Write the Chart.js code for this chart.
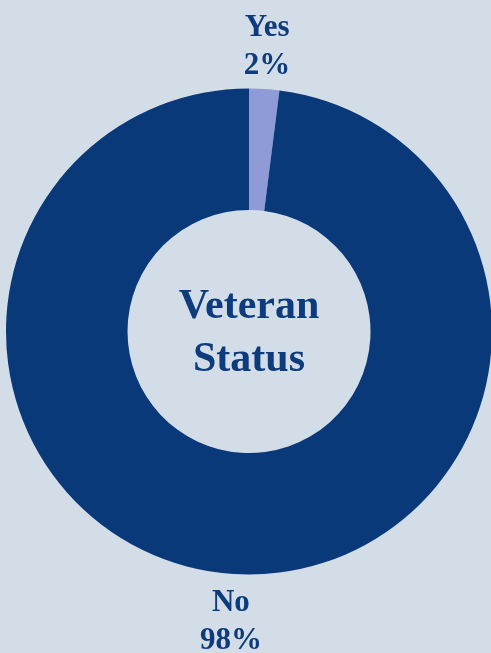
<!DOCTYPE html>
<html>
<head>
<meta charset="utf-8">
<title>Veteran Status</title>
<script src="https://cdn.jsdelivr.net/npm/chart.js@4"></script>
<style>
  html, body { margin: 0; padding: 0; width: 491px; height: 653px; overflow: hidden; background: #d3dde7; }
  #wrap { position: absolute; left: 0; top: 0; width: 497px; height: 653px; }
</style>
</head>
<body>
<div id="wrap"><canvas id="chart" width="497" height="653"></canvas></div>
<script>
// Survey answers and their share of respondents (percent)
const categories = ['Yes', 'No'];
const shares = [2, 98];
const centerTitle = ['Veteran', 'Status'];

const NAVY = '#0a397a';
const TEXT = '#0d3b7c';
const SERIF = '"Liberation Serif", "Times New Roman", serif';

// Category name and percentage written outside each slice, at its middle angle
const sliceLabels = {
  id: 'sliceLabels',
  afterDatasetsDraw(chart) {
    const ctx = chart.ctx;
    const meta = chart.getDatasetMeta(0);
    ctx.save();
    ctx.fillStyle = TEXT;
    ctx.textAlign = 'center';
    ctx.textBaseline = 'alphabetic';
    ctx.font = 'bold 31px ' + SERIF;
    meta.data.forEach((arc, i) => {
      const p = arc.getProps(['x', 'y', 'startAngle', 'endAngle', 'outerRadius'], true);
      const mid = (p.startAngle + p.endAngle) / 2;
      const r = p.outerRadius + 45;
      const cx = p.x + Math.cos(mid) * r;
      const cy = p.y + Math.sin(mid) * r;
      ctx.fillText(categories[i], cx, cy - 8);
      ctx.fillText(shares[i] + '%', cx, cy + 30);
    });
    ctx.restore();
  }
};

// Title in the hole of the ring
const centerText = {
  id: 'centerText',
  afterDatasetsDraw(chart) {
    const ctx = chart.ctx;
    const arc = chart.getDatasetMeta(0).data[0];
    if (!arc) return;
    const { x, y } = arc.getProps(['x', 'y'], true);
    ctx.save();
    ctx.fillStyle = TEXT;
    ctx.textAlign = 'center';
    ctx.textBaseline = 'alphabetic';
    ctx.font = 'bold 42px ' + SERIF;
    ctx.fillText(centerTitle[0], x, y - 14);
    ctx.fillText(centerTitle[1], x, y + 39);
    ctx.restore();
  }
};

new Chart(document.getElementById('chart'), {
  type: 'doughnut',
  data: {
    labels: categories,
    datasets: [{
      data: shares,
      backgroundColor: ['#8e9bd6', NAVY],
      borderWidth: 0
    }]
  },
  options: {
    responsive: false,
    animation: false,
    cutout: '50%',
    layout: { padding: { left: 6, right: 5, top: 88.5, bottom: 78.5 } },
    plugins: {
      legend: { display: false },
      tooltip: { enabled: false }
    }
  },
  plugins: [sliceLabels, centerText]
});
</script>
</body>
</html>
